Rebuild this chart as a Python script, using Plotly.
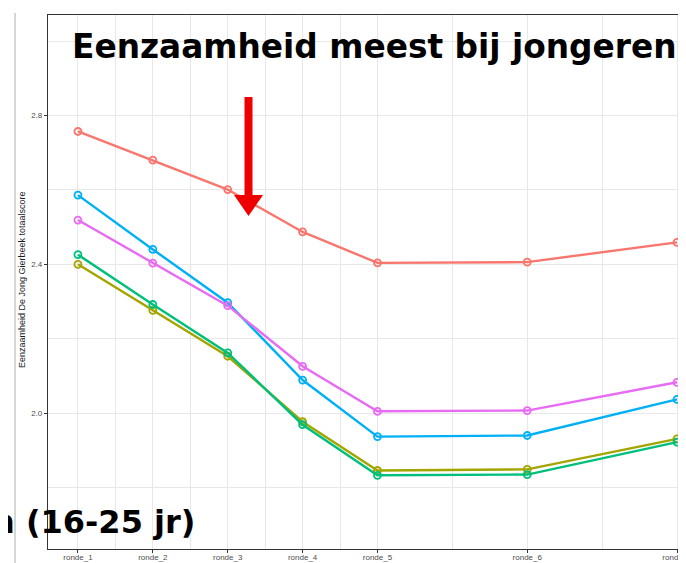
import plotly.graph_objects as go

# ---------------- data ----------------
rounds = ["ronde_1", "ronde_2", "ronde_3", "ronde_4", "ronde_5", "ronde_6", "ronde_7"]
round_pos = [1, 2, 3, 4, 5, 7, 9]

series_names = ["16-25 jr", "groep 2", "groep 3", "groep 4", "groep 5"]
red_vals = [2.757, 2.680, 2.601, 2.487, 2.404, 2.406, 2.459]
olive_vals = [2.400, 2.276, 2.153, 1.977, 1.846, 1.849, 1.931]
green_vals = [2.426, 2.292, 2.162, 1.969, 1.833, 1.835, 1.922]
blue_vals = [2.586, 2.440, 2.297, 2.089, 1.937, 1.940, 2.037]
magenta_vals = [2.519, 2.403, 2.289, 2.126, 2.005, 2.007, 2.083]

y_ticks = [2.0, 2.4, 2.8]
y_minor = [1.8, 2.2, 2.6, 3.0]
x_minor = [1.5, 2.5, 3.5, 4.5, 6, 8]

colors = ["#F8766D", "#A3A500", "#00BF7D", "#00B0F6", "#E76BF3"]
all_vals = [red_vals, olive_vals, green_vals, blue_vals, magenta_vals]

# ---------------- layout helpers ----------------
# page body has an 8px margin, so the figure is drawn shifted by OFF px
OFF = 8
W, H = 686, 563
L, R, T, B = 48, 686, 15, 549   # plot area in screenshot pixels


def px(p):
    return (p - L) / (R - L)


def py(p):
    return (B - p) / (B - T)


fig = go.Figure()
for name, vals, col in zip(series_names, all_vals, colors):
    fig.add_trace(go.Scatter(
        x=round_pos, y=vals, name=name, mode="lines+markers",
        line=dict(color=col, width=2.4),
        marker=dict(symbol="circle-open", size=7, color=col, line=dict(width=1.8, color=col)),
        showlegend=False,
    ))

grid_col = "#E8E8E8"
tick_font = dict(family="Liberation Sans, Arial, sans-serif", size=8, color="#4D4D4D")

fig.update_layout(
    width=W, height=H,
    margin=dict(l=L - OFF, r=W - (R - OFF), t=T - OFF, b=H - (B - OFF), pad=0),
    paper_bgcolor="white", plot_bgcolor="white",
    xaxis=dict(
        range=[0.6, 9.12], tickvals=round_pos, ticktext=rounds,
        showgrid=True, gridcolor=grid_col, gridwidth=1.2,
        minor=dict(tickvals=x_minor, showgrid=True, gridcolor=grid_col, gridwidth=0.8, ticklen=0),
        showline=True, linecolor="#333333", linewidth=1.2, mirror=True,
        ticks="outside", ticklen=3, tickcolor="#333333", tickwidth=1,
        ticklabelstandoff=-3,
        tickfont=tick_font, zeroline=False, automargin=False,
    ),
    yaxis=dict(
        range=[1.635, 3.07], tickvals=y_ticks, tickformat=".1f",
        showgrid=True, gridcolor=grid_col, gridwidth=1.2,
        minor=dict(tickvals=y_minor, showgrid=True, gridcolor=grid_col, gridwidth=0.8, ticklen=0),
        showline=True, linecolor="#333333", linewidth=1.2, mirror=False,
        ticks="outside", ticklen=3, tickcolor="#333333", tickwidth=1,
        tickfont=tick_font, zeroline=False, automargin=False,
    ),
)

# y axis title
fig.add_annotation(
    text="Eenzaamheid De Jong Gierbeek totaalscore",
    xref="paper", yref="paper", x=px(22), y=py(280),
    xanchor="center", yanchor="middle", textangle=-90, showarrow=False,
    font=dict(family="Liberation Sans, Arial, sans-serif", size=9, color="#1A1A1A"),
)

# big slide texts
fig.add_annotation(
    text="Eenzaamheid meest bij jongeren",
    xref="paper", yref="paper", x=px(70), y=py(47),
    xanchor="left", yanchor="middle", showarrow=False,
    font=dict(family="DejaVu Sans", size=32.8, color="#000000", weight="bold"),
)
fig.add_annotation(
    text="n (16-25 jr)",
    xref="paper", yref="paper", x=px(-10), y=py(522),
    xanchor="left", yanchor="middle", showarrow=False,
    font=dict(family="DejaVu Sans", size=32, color="#000000", weight="bold"),
)

# faint slide border line on the left
fig.add_shape(type="line", xref="paper", yref="paper",
              x0=px(15), x1=px(15), y0=py(13), y1=py(563),
              line=dict(color="#C8C8C8", width=1.5))

# red arrow
arrow_col = "#EE0000"
fig.add_shape(type="rect", xref="paper", yref="paper",
              x0=px(244.5), x1=px(252.5), y0=py(97), y1=py(197),
              line=dict(width=0), fillcolor=arrow_col)
fig.add_shape(type="path", xref="paper", yref="paper",
              path=f"M {px(234)} {py(195)} L {px(263)} {py(195)} L {px(248.5)} {py(216)} Z",
              line=dict(width=0), fillcolor=arrow_col)

fig.write_html("out.html")
